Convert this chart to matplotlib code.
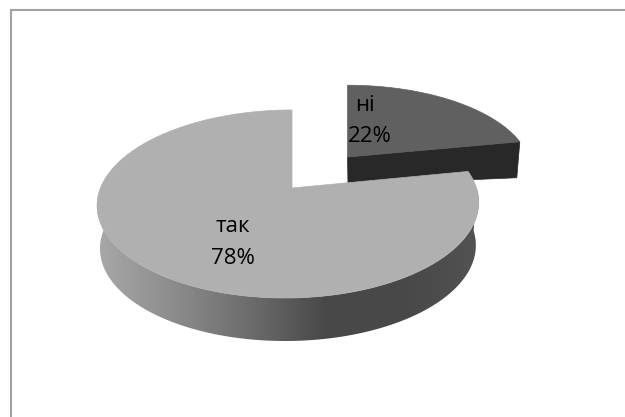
import numpy as np
import matplotlib
matplotlib.use('Agg')
import matplotlib.pyplot as plt
from matplotlib.patches import Polygon
from matplotlib.colors import LinearSegmentedColormap

# Chart data
labels = ['ні', 'так']
values = [22, 78]
percents = ['22%', '78%']

# Side shading of the big slice, left to right
side_grays = ['#a8a8a8', '#8c8c8c', '#6c6c6c', '#484848', '#484848', '#525252']

plt.rcParams['font.family'] = ['Open Sans', 'DejaVu Sans']

fig = plt.figure(figsize=(6.25, 4.17), dpi=100)
ax = fig.add_axes([0, 0, 1, 1])
ax.set_xlim(0, 625)
ax.set_ylim(417, 0)
ax.axis('off')

# Frame, only top and left are visible
ax.plot([11, 11, 625], [417, 9.5, 9.5], color='#a2a2a2', lw=1.5, solid_joinstyle='miter')


def project(theta, r, apex, a, b, k=0.17, shear=3.5):
    # theta is clockwise from the top, k gives the perspective
    u = r * np.sin(theta)
    v = r * np.cos(theta)
    x = apex[0] + a * u / (1 + k * v) - shear * (r - v)
    y = apex[1] - b * v / (1 + k * v)
    return x, y


def slice_top(t0, t1, apex, a, b, shear=3.5):
    th = np.linspace(t0, t1, 200)
    x, y = project(th, 1.0, apex, a, b, shear=shear)
    return np.column_stack([np.r_[apex[0], x], np.r_[apex[1], y]])


# Angles from the values
total = sum(values)
small_end = 2 * np.pi * values[0] / total

# Small exploded slice
small_apex = (347.5, 157)
sa, sb = 181, 84
rx, ry = project(small_end, 1.0, small_apex, sa, sb, shear=0)
small_side = [(small_apex[0], small_apex[1]), (rx, ry), (rx - 3, ry + 36),
              (small_apex[0] + 0.5, small_apex[1] + 28)]
ax.add_patch(Polygon(small_side, closed=True, fc='#282828', ec='#282828', lw=0.5, zorder=2))
ax.add_patch(Polygon(slice_top(0, small_end, small_apex, sa, sb, shear=0), closed=True,
                     fc='#606060', ec='#606060', lw=0.5, zorder=3))

# Big slice
big_apex = (292, 188)
ba, bb = 188, 91.3
depth = 43
th = np.linspace(np.pi * 0.5, np.pi * 1.5, 300)
x, y = project(th, 1.0, big_apex, ba, bb)
x_low = 288.5 + (x - 288.5) * 0.985
side_xy = np.column_stack([np.r_[x, x_low[::-1]], np.r_[y, y[::-1] + depth]])
side_poly = Polygon(side_xy, closed=True, fc='none', ec='none', transform=ax.transData, zorder=4)
ax.add_patch(side_poly)
cmap = LinearSegmentedColormap.from_list('side', side_grays)
grad = np.linspace(0, 1, 256).reshape(1, -1)
im = ax.imshow(grad, cmap=cmap, extent=[x.min(), x.max(), 345, 190], aspect='auto', zorder=4)
im.set_clip_path(side_poly)
ax.set_xlim(0, 625)
ax.set_ylim(417, 0)

ax.add_patch(Polygon(slice_top(small_end, 2 * np.pi, big_apex, ba, bb), closed=True,
                     fc='#b0b0b0', ec='#b0b0b0', lw=0.5, zorder=5))

# Data labels
ax.text(365, 105, labels[0], ha='center', va='center', fontsize=16, color='#000000', zorder=6)
ax.text(370, 136, percents[0], ha='center', va='center', fontsize=16, color='#000000', zorder=6)
ax.text(233, 226, labels[1], ha='center', va='center', fontsize=16, color='#000000', zorder=6)
ax.text(233, 258, percents[1], ha='center', va='center', fontsize=16, color='#000000', zorder=6)

fig.savefig('out.png', dpi=100)
